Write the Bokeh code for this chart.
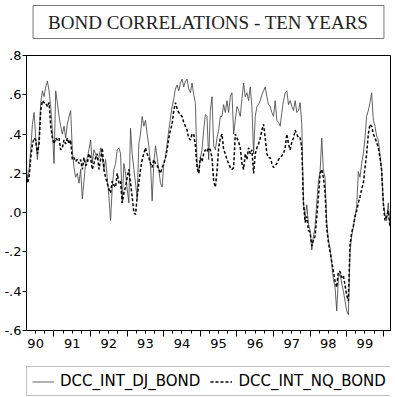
from bokeh.plotting import figure
from bokeh.layouts import column
from bokeh.models import (Range1d, FixedTicker, LinearAxis, CustomJSTickFormatter,
                          Legend, LegendItem, Title)
from bokeh.embed import file_html
from bokeh.resources import INLINE

# ---------------- data ----------------
title_text = "BOND CORRELATIONS - TEN YEARS"
series_names = ["DCC_INT_DJ_BOND", "DCC_INT_NQ_BOND"]

first_date = 1990.23      # first observation (decimal year)
obs_per_year = 22         # sampling of the readings

dcc_int_dj_bond = [
    .30, .16, .22, .32, .45, .51, .38, .27, .38, .56,
    .62, .59, .64, .67, .62, .54, .42, .25, .62, .56,
    .49, .44, .40, .44, .38, .45, .49, .52, .32, .23,
    .18, .20, .15, .22, .07, .16, .25, .28, .32, .37,
    .25, .32, .30, .27, .28, .33, .28, .22, .27, .18,
    .08, -.04, .13, .22, .25, .32, .33, .30, .05, .25,
    .20, .12, .05, .43, .30, .22, .15, .07, .35, .40,
    .49, .44, .47, .40, .34, .25, .06, .25, .34, .28,
    .22, .15, .13, .25, .28, .35, .42, .48, .54, .58,
    .63, .65, .62, .66, .68, .64, .67, .68, .63, .61,
    .66, .60, .56, .25, .20, .28, .32, .42, .50, .49,
    .27, .52, .59, .34, .32, .38, .42, .49, .49, .55,
    .51, .57, .51, .59, .61, .40, .47, .54, .52, .49,
    .58, .66, .59, .61, .57, .64, .54, .30, .49, .54,
    .55, .57, .60, .62, .64, .59, .55, .54, .51, .49,
    .57, .47, .46, .44, .51, .57, .61, .62, .55, .57,
    .54, .52, .57, .51, .52, .56, .45, .05, -.03, .04,
    -.06, -.09, -.19, -.12, -.07, .05, .16, .21, .38, .21,
    .18, -.05, -.14, -.18, -.26, -.34, -.38, -.50, -.33, -.31,
    -.36, -.40, -.45, -.50, -.52, -.20, -.12, -.07, -.02, .03,
    .21, .18, .25, .30, .38, .49, .52, .56, .61, .47,
    .44, .39, .37, .30, .21, .05, -.01, -.04, .05, -.07,
]

dcc_int_nq_bond = [
    .22, .15, .18, .28, .35, .38, .37, .30, .35, .52,
    .57, .56, .56, .54, .56, .44, .38, .35, .38, .37,
    .38, .32, .33, .37, .35, .38, .35, .37, .27, .28,
    .26, .27, .25, .27, .22, .28, .24, .25, .30, .28,
    .22, .25, .28, .30, .22, .27, .33, .22, .18, .15,
    .12, .10, .16, .14, .13, .20, .15, .16, .05, .10,
    .13, .18, .22, .15, .08, .00, -.01, .08, .15, .22,
    .27, .30, .33, .30, .28, .25, .23, .27, .25, .24,
    .22, .20, .23, .25, .28, .32, .38, .42, .45, .52,
    .56, .53, .51, .50, .49, .46, .44, .42, .38, .37,
    .40, .40, .34, .23, .20, .28, .26, .30, .32, .31,
    .33, .32, .28, .16, .13, .21, .33, .38, .40, .32,
    .30, .27, .25, .23, .22, .23, .40, .38, .36, .33,
    .25, .22, .30, .27, .33, .30, .32, .20, .30, .33,
    .35, .38, .42, .45, .38, .30, .28, .28, .25, .23,
    .24, .25, .27, .28, .29, .30, .33, .40, .35, .32,
    .36, .38, .42, .40, .38, .38, .33, .05, -.05, -.02,
    -.09, -.10, -.17, -.14, -.12, -.02, .08, .20, .22, .18,
    .10, -.08, -.15, -.20, -.25, -.30, -.35, -.38, -.30, -.30,
    -.33, -.32, -.37, -.42, -.45, -.16, -.10, -.07, -.02, .01,
    .05, .08, .12, .15, .23, .30, .40, .45, .44, .40,
    .38, .36, .33, .28, .22, .05, -.04, -.02, .01, -.07,
]

year_label_pos = [1990.5, 1991.5, 1992.5, 1993.5, 1994.5,
                  1995.5, 1996.5, 1997.5, 1998.5, 1999.5]
year_labels = ["90", "91", "92", "93", "94", "95", "96", "97", "98", "99"]
year_boundaries = [1991, 1992, 1993, 1994, 1995, 1996, 1997, 1998, 1999, 2000]
quarter_ticks = [1990.5, 1990.75] + [y + q for y in range(1991, 2000)
                                     for q in (0.0, 0.25, 0.5, 0.75)] + [2000.0]
y_ticks = [-0.6, -0.4, -0.2, 0.0, 0.2, 0.4, 0.6, 0.8]
y_labels = ["-.6", "-.4", "-.2", ".0", ".2", ".4", ".6", ".8"]

dates = [first_date + i / obs_per_year for i in range(len(dcc_int_dj_bond))]

dj_style = dict(line_color="#3c3c3c", line_width=0.8)
nq_style = dict(line_color="black", line_width=1.5, line_dash="3 2")

# ---------------- main figure ----------------
p = figure(width=395, height=365, output_backend="svg", toolbar_location=None,
           x_range=Range1d(1990.25, 2000.2), y_range=Range1d(-0.6, 0.8),
           min_border_left=26, min_border_right=5, min_border_top=55,
           min_border_bottom=35)
p.background_fill_color = "white"
p.border_fill_color = "white"
p.outline_line_color = "black"
p.outline_line_width = 1
p.xgrid.visible = False
p.ygrid.visible = False

r_dj = p.line(dates, dcc_int_dj_bond, **dj_style)
r_nq = p.line(dates, dcc_int_nq_bond, **nq_style)

lookup_code = """
let best = 0;
for (let i = 0; i < tick_vals.length; i++) {
  if (Math.abs(tick_vals[i] - tick) < Math.abs(tick_vals[best] - tick)) best = i;
}
return tick_texts[best];
"""

# y axis
ya = p.yaxis[0]
ya.ticker = FixedTicker(ticks=y_ticks, minor_ticks=[])
ya.formatter = CustomJSTickFormatter(args=dict(tick_vals=y_ticks, tick_texts=y_labels),
                                     code=lookup_code)
ya.major_tick_out = 4
ya.major_tick_in = 0
ya.minor_tick_line_color = None
ya.major_label_standoff = 1
ya.major_label_text_font = "DejaVu Sans"
ya.major_label_text_font_size = "13px"
ya.major_label_text_color = "black"
ya.axis_line_color = "black"

# x axis: ticks only
xa = p.xaxis[0]
xa.ticker = FixedTicker(ticks=year_boundaries, minor_ticks=quarter_ticks)
xa.formatter = CustomJSTickFormatter(code="return '';")
xa.major_tick_out = 6
xa.major_tick_in = 0
xa.minor_tick_out = 3
xa.minor_tick_in = 0
xa.major_label_standoff = 0
xa.axis_line_color = "black"
xa.major_tick_line_color = "black"
xa.minor_tick_line_color = "black"

# x axis: year labels centered in each year
xl = LinearAxis(ticker=FixedTicker(ticks=year_label_pos, minor_ticks=[]),
                formatter=CustomJSTickFormatter(
                    args=dict(tick_vals=year_label_pos, tick_texts=year_labels),
                    code=lookup_code))
xl.axis_line_color = None
xl.major_tick_line_color = None
xl.minor_tick_line_color = None
xl.major_tick_out = 0
xl.major_tick_in = 0
xl.major_label_standoff = 2
xl.major_label_text_font = "DejaVu Sans"
xl.major_label_text_font_size = "13px"
xl.major_label_text_color = "black"
p.add_layout(xl, "below")

# invisible spacer between the frame and the title box
spacer = LinearAxis(ticker=FixedTicker(ticks=year_boundaries, minor_ticks=[]),
                    formatter=CustomJSTickFormatter(code="return '';"))
spacer.axis_line_color = None
spacer.major_tick_line_color = None
spacer.minor_tick_line_color = None
spacer.major_tick_out = 17
spacer.major_tick_in = 0
spacer.major_label_standoff = 0
p.add_layout(spacer, "above")

# title box
title = Title(text=title_text, align="center", vertical_align="bottom",
              text_font="Liberation Serif", text_font_size="19px",
              text_font_style="normal", text_color="#222222",
              border_line_color="#777777", border_line_width=1,
              background_fill_color="white", padding=(15, 6), standoff=0)
p.add_layout(title, "above")

# ---------------- legend strip ----------------
pl = figure(width=395, height=32, output_backend="svg", toolbar_location=None,
            x_axis_type=None, y_axis_type=None, min_border=0,
            min_border_left=0, min_border_right=0,
            x_range=Range1d(0, 1), y_range=Range1d(0, 1))
pl.outline_line_color = None
pl.xgrid.visible = False
pl.ygrid.visible = False
pl.background_fill_color = "white"
pl.border_fill_color = "white"
# legend proxies (kept outside the visible range of this strip)
l_dj = pl.line([5, 6], [5, 6], **dj_style)
l_nq = pl.line([5, 6], [5, 6], **nq_style)

legend = Legend(items=[LegendItem(label=series_names[0], renderers=[l_dj]),
                       LegendItem(label=series_names[1], renderers=[l_nq])],
                orientation="horizontal", location=(0, 1),
                border_line_color="#808080", border_line_width=1,
                background_fill_color="white",
                label_text_font="DejaVu Sans", label_text_font_size="15px",
                label_text_color="black",
                glyph_width=22, glyph_height=17, label_height=17,
                label_standoff=6, spacing=10, padding=5, margin=0)
pl.add_layout(legend)

layout = column(p, pl, spacing=0)
open("out.html", "w").write(file_html(layout, INLINE))
